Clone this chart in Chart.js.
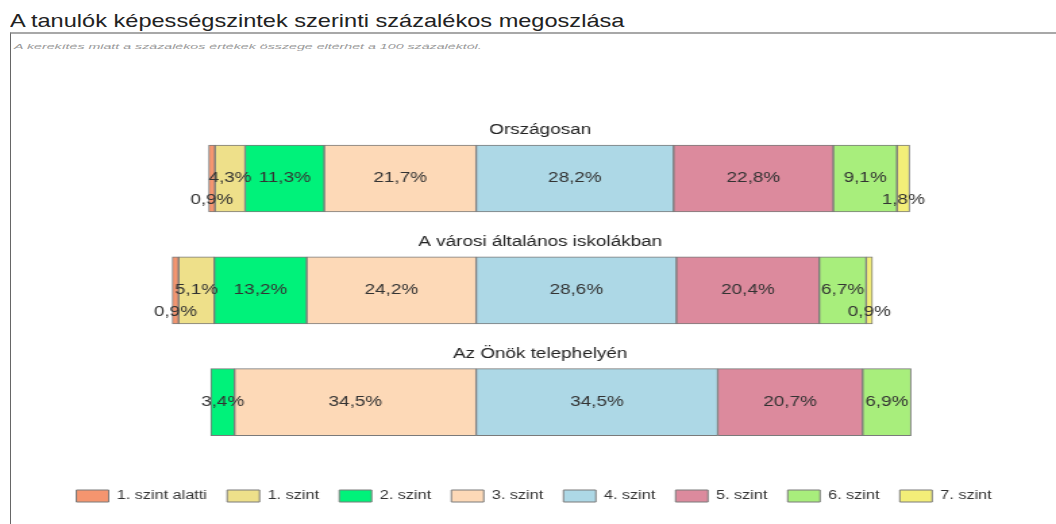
<!DOCTYPE html>
<html lang="hu">
<head>
<meta charset="utf-8">
<title>A tanulók képességszintek szerinti százalékos megoszlása</title>
<script src="https://cdn.jsdelivr.net/npm/chart.js@4.4.0/dist/chart.umd.min.js"></script>
<style>
  html, body { margin: 0; padding: 0; background: #fff; overflow: hidden; }
  body { width: 1056px; height: 524px; position: relative; font-family: "Liberation Sans", Arial, sans-serif; }
  #title { position: absolute; left: 10px; top: 11px; font-size: 19px; line-height: 19px; color: #222; white-space: nowrap; transform-origin: 0 0; }
  #frame { position: absolute; left: 10px; top: 32px; width: 1100px; height: 600px; border-left: 1px solid #666; border-top: 2px solid #a8a8a8; }
  #note { position: absolute; left: 14px; top: 43px; font-size: 8px; line-height: 8px; font-style: italic; color: #999; white-space: nowrap; transform-origin: 0 0; }
  #wrap { position: absolute; left: 0; top: 0; width: 782px; height: 524px; transform: scaleX(1.3504); transform-origin: 0 0; }
</style>
</head>
<body>
<span id="title">A tanulók képességszintek szerinti százalékos megoszlása</span>
<div id="frame"></div>
<span id="note">A kerekítés miatt a százalékos értékek összege eltérhet a 100 százaléktól.</span>
<div id="wrap"><canvas id="chart" width="782" height="524"></canvas></div>
<script>
const groups = ['Országosan', 'A városi általános iskolákban', 'Az Önök telephelyén'];
const levels = ['1. szint alatti', '1. szint', '2. szint', '3. szint', '4. szint', '5. szint', '6. szint', '7. szint'];

// százalékok szintenként (1. szint alatti ... 7. szint)
const orszagosan = [0.9, 4.3, 11.3, 21.7, 28.2, 22.8, 9.1, 1.8];
const varosi = [0.9, 5.1, 13.2, 24.2, 28.6, 20.4, 6.7, 0.9];
const onok = [0, 0, 3.4, 34.5, 34.5, 20.7, 6.9, 0];

const levelColors = ['#F5956F', '#EEE08A', '#00F27A', '#FDD9B7', '#ADD8E6', '#DC8A9D', '#A8EE7C', '#F3EE78'];

// stretch the text boxes to the width they have in the picture
function fitWidth(id, target) {
    const el = document.getElementById(id);
    el.style.transform = 'scaleX(' + (target / el.offsetWidth) + ')';
}
fitWidth('title', 614);
fitWidth('note', 467);

const rows = [orszagosan, varosi, onok];

// levels up to 3. szint go left of zero, from 4. szint to the right
function spans(row) {
    const out = [];
    let left = 0;
    for (let i = 3; i >= 0; i--) {
        out[i] = row[i] > 0 ? [-(left + row[i]), -left] : null;
        left += row[i];
    }
    let right = 0;
    for (let i = 4; i < row.length; i++) {
        out[i] = row[i] > 0 ? [right, right + row[i]] : null;
        right += row[i];
    }
    return out;
}
const rowSpans = rows.map(spans);

const datasets = levels.map((name, i) => ({
    label: name,
    data: rowSpans.map(s => s[i]),
    values: rows.map(r => r[i]),
    backgroundColor: levelColors[i],
    borderColor: '#7a7a7a',
    borderWidth: 1,
    borderSkipped: false,
    barThickness: 67,
    grouped: false
}));

const segmentLabels = {
    id: 'segmentLabels',
    afterDatasetsDraw(chart) {
        const ctx = chart.ctx;
        ctx.save();
        ctx.textAlign = 'center';
        ctx.textBaseline = 'middle';
        ctx.font = '14px "Liberation Sans", Arial, sans-serif';
        ctx.fillStyle = '#333';
        chart.data.datasets.forEach((ds, i) => {
            chart.getDatasetMeta(i).data.forEach((bar, j) => {
                const v = ds.values[j];
                if (!v) return;
                const x = (bar.x + bar.base) / 2;
                const y = bar.y + (v < 2 ? 22 : 0);
                ctx.fillText(v.toFixed(1).replace('.', ',') + '%', x, y);
            });
        });
        ctx.fillStyle = '#222';
        const yScale = chart.scales.y;
        groups.forEach((g, j) => ctx.fillText(g, 400, yScale.getPixelForValue(j) - 48));
        ctx.restore();
    }
};

Chart.defaults.font.family = '"Liberation Sans", Arial, sans-serif';

new Chart(document.getElementById('chart'), {
    type: 'bar',
    data: { labels: groups, datasets: datasets },
    options: {
        indexAxis: 'y',
        responsive: false,
        devicePixelRatio: 1,
        animation: false,
        events: [],
        layout: { padding: { left: 41.5, right: 14.6, top: 122.6, bottom: 12 } },
        scales: {
            x: {
                min: -60,
                max: 80,
                grid: { display: false },
                ticks: { display: false },
                border: { display: false },
                afterFit: scale => { scale.height = 17; }
            },
            y: { display: false }
        },
        plugins: {
            legend: {
                position: 'bottom',
                align: 'start',
                labels: { boxWidth: 24, boxHeight: 12, padding: 15, color: '#333', font: { size: 12 } }
            },
            tooltip: { enabled: false }
        }
    },
    plugins: [segmentLabels]
});
</script>
</body>
</html>
